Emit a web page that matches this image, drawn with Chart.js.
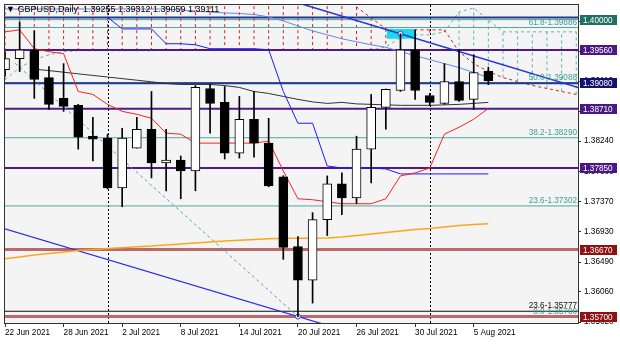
<!DOCTYPE html>
<html>
<head>
<meta charset="utf-8">
<script src="https://cdn.jsdelivr.net/npm/chart.js@4.4.0/dist/chart.umd.min.js"></script>
<style>
  html, body { margin: 0; padding: 0; background: #fff; }
  canvas { display: block; }
</style>
</head>
<body>
<canvas id="gbpusdChart" width="620" height="344"></canvas>
<script>
// GBPUSD Daily, 22 Jun - 6 Aug 2021
const dates = ['22 Jun 2021', '23 Jun 2021', '24 Jun 2021', '25 Jun 2021', '28 Jun 2021', '29 Jun 2021', '30 Jun 2021',
  '1 Jul 2021', '2 Jul 2021', '5 Jul 2021', '6 Jul 2021', '7 Jul 2021', '8 Jul 2021', '9 Jul 2021',
  '12 Jul 2021', '13 Jul 2021', '14 Jul 2021', '15 Jul 2021', '16 Jul 2021', '19 Jul 2021', '20 Jul 2021',
  '21 Jul 2021', '22 Jul 2021', '23 Jul 2021', '26 Jul 2021', '27 Jul 2021', '28 Jul 2021', '29 Jul 2021',
  '30 Jul 2021', '2 Aug 2021', '3 Aug 2021', '4 Aug 2021', '5 Aug 2021', '6 Aug 2021'];

const open  = [1.39277, 1.39435, 1.39564, 1.39161, 1.38859, 1.38758, 1.38312, 1.38284, 1.37564, 1.38140, 1.38413, 1.37924, 1.37967, 1.37809, 1.39003, 1.38802, 1.38068, 1.38557, 1.38212, 1.37722, 1.36715, 1.36226, 1.37104, 1.37622, 1.37420, 1.38125, 1.38730, 1.38974, 1.39564, 1.38902, 1.38787, 1.39104, 1.38845, 1.39255];
const high  = [1.39536, 1.39967, 1.39838, 1.39320, 1.39363, 1.38773, 1.38586, 1.38341, 1.38427, 1.38586, 1.38960, 1.38413, 1.38025, 1.39046, 1.39061, 1.39032, 1.38888, 1.38960, 1.38571, 1.37740, 1.36859, 1.37205, 1.37737, 1.37780, 1.38312, 1.38917, 1.38995, 1.39795, 1.39852, 1.38931, 1.39363, 1.39564, 1.39492, 1.39312];
const low   = [1.39176, 1.39248, 1.38859, 1.38701, 1.38672, 1.38125, 1.37953, 1.37550, 1.37291, 1.38140, 1.37708, 1.37521, 1.37406, 1.37521, 1.38355, 1.37982, 1.37996, 1.38010, 1.37579, 1.36528, 1.35700, 1.35895, 1.36874, 1.37176, 1.37334, 1.37636, 1.38413, 1.38960, 1.38845, 1.38758, 1.38773, 1.38816, 1.38701, 1.39059];
const close = [1.39435, 1.39564, 1.39133, 1.38773, 1.38744, 1.38298, 1.38269, 1.37564, 1.38284, 1.38413, 1.37924, 1.37967, 1.37809, 1.39018, 1.38787, 1.38068, 1.38557, 1.38212, 1.37593, 1.36701, 1.36226, 1.37104, 1.37622, 1.37420, 1.38125, 1.38730, 1.38989, 1.39564, 1.38974, 1.38802, 1.39104, 1.38830, 1.39233, 1.39111];

// indicators (one value per bar)
const tenkan = [1.39823, 1.39852, 1.39579, 1.39536, 1.39507, 1.38960, 1.38917, 1.38773, 1.38672, 1.38629, 1.38572, 1.38356, 1.38341, 1.38212, 1.38212, 1.38212, 1.38212, 1.38212, 1.38241, 1.37809, 1.37406, 1.37392, 1.37363, 1.37334, 1.37334, 1.37334, 1.37406, 1.37737, 1.37780, 1.37852, 1.38341, 1.38442, 1.38557, 1.38715];
const kijun = [null, null, null, null, null, null, null, 1.40036, 1.39866, 1.39866, 1.39866, 1.39651, 1.39651, 1.39636, 1.39579, 1.39579, 1.39579, 1.39579, 1.39564, 1.38960, 1.38500, 1.38500, 1.37881, 1.37852, 1.37852, 1.37852, 1.37838, 1.37766, 1.37766, 1.37766, 1.37766, 1.37766, 1.37766, 1.37766];
const maBlack = [null, null, 1.39284, 1.39262, 1.39239, 1.39215, 1.39192, 1.39169, 1.39146, 1.39123, 1.39100, 1.39075, 1.39061, 1.39061, 1.39061, 1.39046, 1.39018, 1.38960, 1.38931, 1.38888, 1.38845, 1.38809, 1.38787, 1.38802, 1.38780, 1.38773, 1.38766, 1.38759, 1.38759, 1.38759, 1.38766, 1.38773, 1.38787, 1.38802];
const maBlue = [1.40154, 1.40154, 1.40154, 1.40154, 1.40154, 1.40154, 1.40154, 1.40154, 1.40154, 1.40154, 1.40154, 1.40154, 1.40140, 1.40125, 1.40111, 1.40097, 1.40089, 1.40075, 1.40039, 1.39981, 1.39909, 1.39837, 1.39780, 1.39723, 1.39679, 1.39636, 1.39600, 1.39536, 1.39478, 1.39421, 1.39363, 1.39306, 1.39234, 1.39163];
const maOrange = [1.36536, 1.36564, 1.36593, 1.36615, 1.36636, 1.36658, 1.36672, 1.36687, 1.36698, 1.36710, 1.36721, 1.36737, 1.36752, 1.36766, 1.36780, 1.36795, 1.36805, 1.36816, 1.36826, 1.36834, 1.36834, 1.36834, 1.36839, 1.36852, 1.36874, 1.36895, 1.36917, 1.36938, 1.36960, 1.36974, 1.36996, 1.37018, 1.37032, 1.37046];

// cloud, shifted forward (40 slots)
const senkouA = [1.39133, 1.39305, 1.39420, 1.39492, 1.39536, 1.39550, 1.39550, 1.39550, 1.39550, 1.39550, 1.39550, 1.39557, 1.39557, 1.39557, 1.39557, 1.39557, 1.39557, 1.39557, 1.39557, 1.39557, 1.39557, 1.39557, 1.39557, 1.39557, 1.39557, 1.39557, 1.39607, 1.39737, 1.39780, 1.39780, 1.39823, 1.40111, 1.40169, 1.39996, 1.39823, 1.39823, 1.39823, 1.39823, 1.39823, 1.39823];
const senkouB = [1.40543, 1.40543, 1.40543, 1.40543, 1.40543, 1.40543, 1.40543, 1.40543, 1.40543, 1.40543, 1.40543, 1.40543, 1.40543, 1.40543, 1.40543, 1.40543, 1.40543, 1.40543, 1.40543, 1.40543, 1.40543, 1.40543, 1.40543, 1.40370, 1.40183, 1.40025, 1.39866, 1.39852, 1.39852, 1.39852, 1.39852, 1.39536, 1.39363, 1.39248, 1.39161, 1.39104, 1.39047, 1.39003, 1.38960, 1.38917];

// drawn objects
const purpleLevels = [1.39560, 1.38710, 1.37850];
const navyLevels = [1.39080, 1.40030];
const tealLevels = [1.40000];
const redLevels = [1.36670, 1.35700];
const fibTags = ['61.8', '50.0', '38.2', '23.6', '0.0'];
const fibValues = [1.39886, 1.39088, 1.38290, 1.37302, 1.35700];
const fib2Tag = '23.6';
const fib2Value = 1.35777;
const upperTrendX = [15, 40];
const upperTrendY = [1.40564, 1.38962];
const lowerTrendX = [-1, 23];
const lowerTrendY = [1.37034, 1.35510];
const fibDiagX = [0.7, 20];
const fibDiagY = [1.39367, 1.35700];
const boxX = [26.05, 27.96];
const boxY = [1.39722, 1.39866];
const markX = [27, 20];
const markY = [1.39795, 1.35700];

const yTicks = [1.35620, 1.36060, 1.36490, 1.36930, 1.37370, 1.37800, 1.38240, 1.38670, 1.39110, 1.39540, 1.39980];
const priceBoxes = [
  { v: 1.40000, c: '#1f6f62' },
  { v: 1.39560, c: '#4b1786' },
  { v: 1.39080, c: '#12126e' },
  { v: 1.38710, c: '#4b1786' },
  { v: 1.37850, c: '#4b1786' },
  { v: 1.36670, c: '#8e1212' },
  { v: 1.35700, c: '#8e1212' }
];

const tickIdx = dates.map((d, i) => i).filter(i => i % 4 === 0);
const sepIdx = dates.map((d, i) => i).filter(i => i > 0 && dates[i].split(' ')[1] !== dates[i - 1].split(' ')[1]);

const font = '"Liberation Sans", Arial, sans-serif';
const pts = arr => arr.map((v, i) => ({ x: i, y: v }));
const hline = v => [{ x: -2, y: v }, { x: 42, y: v }];
const seg = (xs, ys) => xs.map((x, i) => ({ x: x, y: ys[i] }));

const hatchRed = [], hatchTeal = [];
senkouA.forEach((a, i) => {
  const b = senkouB[i];
  (b > a ? hatchRed : hatchTeal).push({ x: i, y: b }, { x: i, y: a }, { x: i, y: null });
});

const lineDs = (data, color, width, order, extra) => Object.assign({
  type: 'line', data: data, borderColor: color, borderWidth: width, pointRadius: 0,
  fill: false, tension: 0, order: order, clip: 0
}, extra || {});

const datasets = [
  { type: 'bar', data: open.map((o, i) => ({ x: i, y: [o, close[i]] })), grouped: false, barThickness: 9,
    backgroundColor: ctx => (close[ctx.dataIndex] < open[ctx.dataIndex] ? '#000' : '#fff'),
    borderColor: '#000', borderWidth: 1, borderSkipped: false, order: 1, clip: 0 },
  { type: 'bar', data: low.map((l, i) => ({ x: i, y: [l, high[i]] })), grouped: false, barThickness: 1,
    backgroundColor: '#000', borderWidth: 0, order: 2, clip: 0 },
  { type: 'scatter', data: seg(markX, markY), pointRadius: 2.5, pointStyle: 'circle',
    pointBackgroundColor: '#eef', pointBorderColor: '#4040c8', pointBorderWidth: 1, order: 3, clip: 0 },
  lineDs(pts(tenkan), '#ff2020', 1, 4),
  lineDs(pts(kijun), '#1a1aff', 1, 5),
  lineDs(pts(maBlack), '#333', 1, 6),
  lineDs(pts(maBlue), '#6886e6', 1, 7),
  lineDs(pts(maOrange), '#ffa51c', 1.5, 8),
  lineDs(seg(upperTrendX, upperTrendY), '#2234d4', 1.5, 9),
  lineDs(seg(lowerTrendX, lowerTrendY), '#2a2aee', 1.2, 9),
  lineDs(seg(fibDiagX, fibDiagY), '#4fa89c', 1, 10, { borderDash: [3, 3] }),
  lineDs(seg(boxX, [boxY[1], boxY[1]]), '#19d9ee', 0, 11, { fill: { value: boxY[0] }, backgroundColor: '#19d9ee' })
];
purpleLevels.forEach(v => datasets.push(lineDs(hline(v), '#4d1a8c', 2, 12)));
navyLevels.forEach(v => datasets.push(lineDs(hline(v), '#22398f', 2, 12)));
redLevels.forEach(v => datasets.push(lineDs(hline(v), '#b86a6a', 3, 13)));
tealLevels.forEach(v => datasets.push(lineDs(hline(v), '#4fa89c', 1, 14)));
fibValues.forEach(v => datasets.push(lineDs(hline(v), '#4fa89c', 1, 14)));
datasets.push(lineDs(hline(fib2Value), '#111', 1, 14));
datasets.push(lineDs(pts(senkouA), '#5bb5a8', 1, 15, { borderDash: [3, 3] }));
datasets.push(lineDs(pts(senkouB), '#d42020', 1, 15, { borderDash: [3, 3] }));
datasets.push(lineDs(hatchRed, '#d42020', 1, 16, { borderDash: [3, 3] }));
datasets.push(lineDs(hatchTeal, '#5bb5a8', 1, 16, { borderDash: [3, 3] }));

const mtPlugin = {
  id: 'mt',
  beforeDraw(chart) {
    const { ctx, width, height } = chart;
    ctx.save();
    ctx.fillStyle = '#fff';
    ctx.fillRect(0, 0, width, height);
    ctx.restore();
  },
  beforeDatasetsDraw(chart) {
    const { ctx, chartArea: a, scales: { x } } = chart;
    ctx.save();
    ctx.fillStyle = '#f4f4f4';
    ctx.fillRect(a.left, a.top, a.right - a.left, a.bottom - a.top);
    ctx.strokeStyle = '#000';
    ctx.lineWidth = 1;
    ctx.setLineDash([2, 2]);
    sepIdx.forEach(i => {
      const px = Math.round(x.getPixelForValue(i)) + 0.5;
      ctx.beginPath();
      ctx.moveTo(px, a.top);
      ctx.lineTo(px, a.bottom);
      ctx.stroke();
    });
    ctx.restore();
  },
  afterDatasetsDraw(chart) {
    const { ctx, chartArea: a, scales: { y } } = chart;
    ctx.save();
    ctx.font = '8.2px ' + font;
    ctx.textAlign = 'right';
    ctx.textBaseline = 'bottom';
    ctx.fillStyle = '#3d9f93';
    fibValues.forEach((v, i) => ctx.fillText(fibTags[i] + '-' + v.toFixed(5), a.right - 1, y.getPixelForValue(v) - 1));
    ctx.fillStyle = '#111';
    ctx.fillText(fib2Tag + '-' + fib2Value.toFixed(5), a.right - 1, y.getPixelForValue(fib2Value) - 1);

    const n = open.length - 1;
    ctx.textAlign = 'left';
    ctx.textBaseline = 'middle';
    ctx.fillStyle = '#000';
    ctx.font = '9px ' + font;
    ctx.fillText('\u25BC GBPUSD,Daily  ' + [open[n], high[n], low[n], close[n]].map(v => v.toFixed(5)).join(' '), 6, 10);

    ctx.strokeStyle = '#333';
    ctx.lineWidth = 1;
    ctx.strokeRect(a.left - 0.5, a.top - 0.5, a.right - a.left + 1, a.bottom - a.top + 1);
    ctx.restore();
  },
  afterDraw(chart) {
    const { ctx, chartArea: a, scales: { y } } = chart;
    ctx.save();
    ctx.font = '8.2px ' + font;
    ctx.textAlign = 'left';
    ctx.textBaseline = 'middle';
    priceBoxes.forEach(b => {
      const py = Math.round(y.getPixelForValue(b.v));
      ctx.fillStyle = b.c;
      ctx.fillRect(a.right + 2, py - 5, 37, 10);
      ctx.fillStyle = '#fff';
      ctx.fillText(b.v.toFixed(5), a.right + 5, py + 0.5);
    });
    ctx.restore();
  }
};

new Chart(document.getElementById('gbpusdChart'), {
  type: 'bar',
  data: { datasets: datasets },
  plugins: [mtPlugin],
  options: {
    responsive: false,
    animation: false,
    events: [],
    layout: { padding: { left: 3, top: 3, right: 0, bottom: 0 } },
    plugins: { legend: { display: false }, tooltip: { enabled: false } },
    scales: {
      x: {
        type: 'linear', min: 0, max: 39.12, offset: false,
        afterBuildTicks: s => { s.ticks = tickIdx.map(v => ({ value: v })); },
        afterFit: s => { s.height = 21; s.paddingLeft = 0; s.paddingRight = 0; },
        grid: { offset: false, drawOnChartArea: false, drawTicks: true, tickLength: 4, color: '#333' },
        border: { display: false },
        ticks: { autoSkip: false, maxRotation: 0, align: 'start', padding: 1, color: '#000',
          font: { family: font, size: 8.2 }, callback: v => dates[v] }
      },
      y: {
        type: 'linear', position: 'right', min: 1.35607, max: 1.40212,
        afterBuildTicks: s => { s.ticks = yTicks.map(v => ({ value: v })); },
        afterFit: s => { s.width = 42; s.paddingTop = 0; s.paddingBottom = 0; },
        grid: { drawOnChartArea: false, drawTicks: true, tickLength: 3, color: '#333' },
        border: { display: false },
        ticks: { autoSkip: false, padding: 3, color: '#000',
          font: { family: font, size: 8.2 }, callback: v => v.toFixed(5) }
      }
    }
  }
});
</script>
</body>
</html>
